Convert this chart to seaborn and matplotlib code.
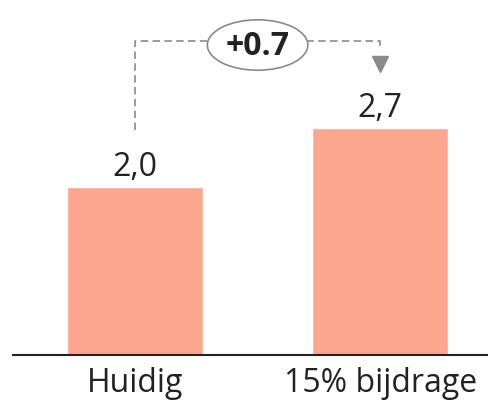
import matplotlib
matplotlib.use("Agg")
from matplotlib import pyplot as plt
from matplotlib.patches import Ellipse
import seaborn as sns

categories = ["Huidig", "15% bijdrage"]
values = [2.0, 2.7]
value_labels = ["2,0", "2,7"]
diff_label = "+0.7"

bar_color = "#FCA690"
line_color = "#8a8a8a"

sns.set_style("white")
plt.rcParams['font.family'] = ['Open Sans', 'DejaVu Sans']

fig = plt.figure(figsize=(4.88, 4.03), dpi=100)
ax = fig.add_axes([13 / 488, 48 / 403, 475 / 488, 355 / 403])

sns.barplot(x=categories, y=values, color=bar_color, saturation=1,
            width=0.555, ax=ax)

ax.set_xlim(-0.498, 1.44)
ax.set_ylim(0, 4.226)
ax.set_xlabel("")
ax.set_ylabel("")
ax.set_yticks([])
ax.tick_params(axis="x", length=0, pad=9, labelsize=23, labelcolor="#222222")
for side in ["left", "right", "top"]:
    ax.spines[side].set_visible(False)
ax.spines["bottom"].set_color("#222222")
ax.spines["bottom"].set_linewidth(1.5)

# value labels above bars
for i, (v, lab) in enumerate(zip(values, value_labels)):
    ax.annotate(lab, (i, v), xytext=(0, 2), textcoords="offset points",
                ha="center", va="bottom", fontsize=23, color="#222222")

# bracket from first bar to second bar
top = max(values) + 1.04
ax.plot([0, 0, 1, 1], [values[0] + 0.68, top, top, values[1] + 0.95],
        color=line_color, lw=1.2, dashes=(4.5, 2.6), zorder=3)
ax.plot([1], [values[1] + 0.76], marker="v", markersize=11,
        color=line_color, zorder=3, linestyle="none")

# difference badge
ell = Ellipse((0.5, top - 0.05), width=0.41, height=0.6,
              facecolor="white", edgecolor=line_color, lw=1.2, zorder=4)
ax.add_patch(ell)
ax.text(0.5, top - 0.02, diff_label, ha="center", va="center_baseline",
        fontsize=23, fontweight="bold", color="#222222", zorder=5)

fig.savefig("out.png", dpi=100)
